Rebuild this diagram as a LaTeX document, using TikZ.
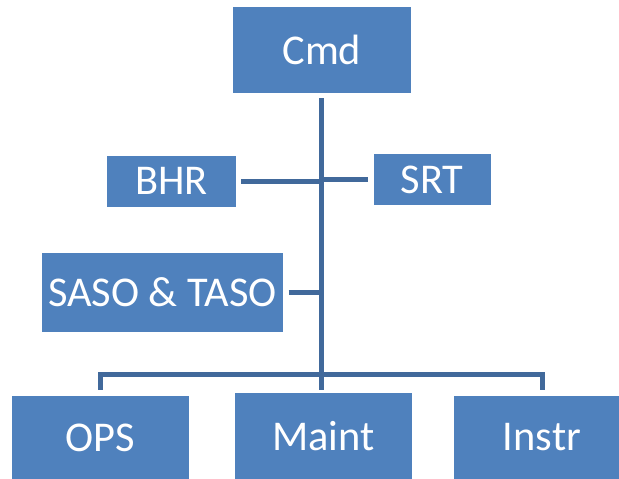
\documentclass[tikz,border=0pt]{standalone}
\usepackage{fontspec}
\setmainfont{Carlito}
\usepackage{tikz}
\usetikzlibrary{positioning, calc}
\definecolor{boxblue}{HTML}{4F81BD}
\definecolor{lineblue}{HTML}{41699B}

\begin{document}
\begin{tikzpicture}[x=0.75pt, y=-0.75pt,
		unit/.style={rectangle, fill=boxblue, text=white, inner sep=0pt,
			font=\fontsize{31.8}{38}\selectfont},
		link/.style={draw=lineblue, line width=3.75pt}]
		\useasboundingbox (0,0) rectangle (619,479);
		\clip (0,0) rectangle (619,479);
		\node[unit, minimum width=177.6pt*0.75, minimum height=85.4pt*0.75] (cmd) at (321.8,50) {Cmd};
		\node[unit, minimum width=128.3pt*0.75, minimum height=51pt*0.75] (bhr) at (171.5,181.2) {BHR};
		\node[unit, minimum width=117.2pt*0.75, minimum height=50.7pt*0.75] (srt) at (432.1,179.7) {SRT};
		\node[unit, minimum width=241.2pt*0.75, minimum height=78.4pt*0.75] (saso) at (162.4,292.5) {SASO \& TASO};
		\node[unit, minimum width=177.7pt*0.75, minimum height=83pt*0.75] (ops) at (100.6,437.5) {OPS};
		\node[unit, minimum width=176.9pt*0.75, minimum height=85.7pt*0.75] (maint) at (323.3,436.2) {Maint};
		\node[unit, minimum width=176pt*0.75, minimum height=83pt*0.75] (instr) at (542,437.5) {Instr};
		\coordinate (hub) at (321.8,374);
		
		\draw[link] ([yshift=-4pt]cmd.south) -- ([yshift=2.5pt]cmd.south |- maint.north);
		\draw[link] ([xshift=4pt]bhr.east) -- (bhr.east -| cmd.south);
		\draw[link] ([xshift=-4pt]srt.west) -- (srt.west -| cmd.south);
		\draw[link] ([xshift=4pt]saso.east) -- (saso.east -| cmd.south);
		\draw[link] ([yshift=4.5pt]ops.north) |- (hub) -| ([yshift=4.5pt]instr.north);
	\end{tikzpicture}
\end{document}
